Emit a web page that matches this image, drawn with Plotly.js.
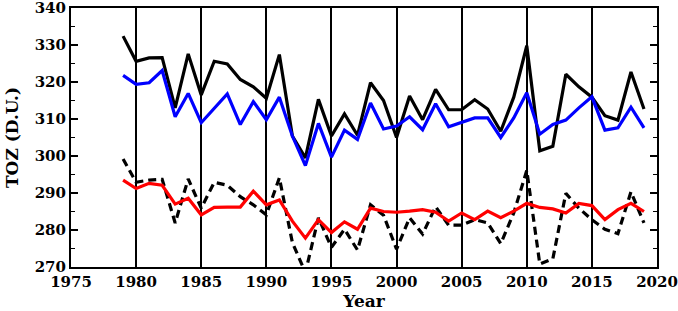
<!DOCTYPE html>
<html>
<head>
<meta charset="utf-8">
<script src="https://cdn.plot.ly/plotly-3.0.1.min.js"></script>
<style>html,body{margin:0;padding:0;background:#fff;}#chart{width:678px;height:311px;}</style>
</head>
<body>
<div id="chart"></div>
<script>
const years = [1979,1980,1981,1982,1983,1984,1985,1986,1987,1988,1989,1990,1991,1992,1993,1994,1995,1996,1997,1998,1999,2000,2001,2002,2003,2004,2005,2006,2007,2008,2009,2010,2011,2012,2013,2014,2015,2016,2017,2018,2019];
const blackSolid = [332.4,325.6,326.5,326.6,313.0,327.6,316.5,325.6,324.9,320.7,318.7,315.6,327.4,305.4,299.5,315.3,305.4,311.4,305.6,319.8,315.0,305.0,316.2,309.8,318.0,312.5,312.5,315.2,312.7,306.7,315.9,329.8,301.4,302.6,322.1,318.7,315.9,310.9,309.7,322.7,312.7];
const blueSolid = [321.8,319.4,319.8,323.1,310.6,316.9,309.0,313.0,316.8,308.5,314.7,309.8,315.9,305.4,297.4,308.8,299.7,307.0,304.5,314.3,307.3,308.1,310.6,307.1,314.1,307.9,309.1,310.3,310.3,305.0,310.3,317.1,305.9,308.5,309.7,313.0,316.0,307.0,307.6,313.2,307.6];
const blackDashed = [299.2,292.9,293.5,293.7,281.9,293.8,285.9,292.9,292.1,289.0,286.8,284.1,294.1,276.6,268.5,283.3,275.3,280.2,274.6,286.8,284.0,274.8,283.3,278.9,286.3,281.3,281.3,282.8,281.9,276.3,284.6,296.1,270.8,272.2,289.9,285.9,282.8,280.2,279.0,290.3,281.9];
const redSolid = [293.5,291.2,292.6,292.1,287.0,288.6,284.1,286.1,286.2,286.2,290.5,286.8,288.1,282.4,277.8,282.8,279.3,282.2,280.2,285.9,285.0,284.8,285.1,285.5,284.8,282.4,284.6,282.8,285.1,283.3,285.1,287.2,286.1,285.7,284.6,287.2,286.6,282.8,285.5,287.2,285.0];
const xTicks = [1975,1980,1985,1990,1995,2000,2005,2010,2015,2020];
const yTicks = [270,280,290,300,310,320,330,340];

const fam = 'DejaVu Serif';
const fs = 15;
const lw = 3.2;
const traces = [
  {x: years, y: blackSolid, mode: 'lines', line: {color: '#000', width: lw}, name: 'a'},
  {x: years, y: blueSolid, mode: 'lines', line: {color: '#0000ff', width: lw}, name: 'b'},
  {x: years, y: blackDashed, mode: 'lines', line: {color: '#000', width: lw, dash: '8px,5px'}, name: 'c'},
  {x: years, y: redSolid, mode: 'lines', line: {color: '#ff0000', width: lw}, name: 'd'}
];
const layout = {
  width: 678, height: 311,
  margin: {l: 71, r: 21, t: 8, b: 44},
  paper_bgcolor: '#fff', plot_bgcolor: '#fff',
  showlegend: false,
  font: {family: fam, size: fs, color: '#000'},
  xaxis: {
    range: [1975, 2020], tickvals: xTicks, ticktext: xTicks.map(v => '<b>' + v + '</b>'),
    showgrid: true, gridcolor: '#000', gridwidth: 2,
    showline: true, linecolor: '#000', linewidth: 2, mirror: true,
    ticks: '', zeroline: false, ticklabeloverflow: 'allow',
    tickfont: {family: fam, size: fs, color: '#000'},
    title: {text: '<b>Year</b>', font: {family: fam, size: 17, color: '#000'}, standoff: 5}
  },
  yaxis: {
    range: [270, 340], tickvals: yTicks, ticktext: yTicks.map(v => '<b>' + v + '</b>'),
    showgrid: false, zeroline: false, ticklabeloverflow: 'allow',
    showline: true, linecolor: '#000', linewidth: 2, mirror: 'allticks',
    ticks: 'inside', ticklen: 7, tickwidth: 1.5, tickcolor: '#000',
    minor: {dtick: 5, ticks: 'inside', ticklen: 4, tickwidth: 1.5, tickcolor: '#000'},
    tickfont: {family: fam, size: fs, color: '#000'},
    title: {text: '<b>TOZ (D.U.)</b>', font: {family: fam, size: 17, color: '#000'}, standoff: 12}
  }
};
Plotly.newPlot('chart', traces, layout, {displayModeBar: false, staticPlot: true});
</script>
</body>
</html>
